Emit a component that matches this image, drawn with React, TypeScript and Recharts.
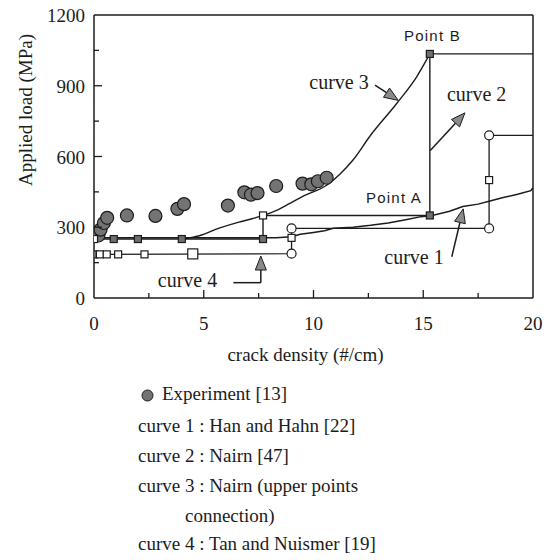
import {
  ComposedChart,
  Line,
  Scatter,
  XAxis,
  YAxis,
  ReferenceLine,
  ReferenceDot,
} from 'recharts';

const SERIF = '"Liberation Serif", "Times New Roman", serif';
const INK = '#1c1c1c';
const GREY = '#8a8a8a';

// crack density (#/cm) -> applied load (MPa)
const experiment = [
  { x: 0.2, y: 265 }, { x: 0.3, y: 290 }, { x: 0.45, y: 318 }, { x: 0.6, y: 340 },
  { x: 1.5, y: 350 }, { x: 2.8, y: 348 }, { x: 3.8, y: 378 }, { x: 4.1, y: 398 },
  { x: 6.1, y: 392 }, { x: 6.85, y: 448 }, { x: 7.15, y: 438 }, { x: 7.45, y: 445 },
  { x: 8.3, y: 475 }, { x: 9.5, y: 485 }, { x: 9.9, y: 482 }, { x: 10.2, y: 495 },
  { x: 10.6, y: 510 },
];

// Han and Hahn
const curve1 = [
  { x: 0, y: 255 }, { x: 7.7, y: 255 }, { x: 8.3, y: 256 }, { x: 9, y: 260 },
  { x: 9.4, y: 270 }, { x: 10, y: 278 }, { x: 10.5, y: 285 }, { x: 10.9, y: 296 },
  { x: 11.8, y: 300 }, { x: 12.6, y: 308 }, { x: 13.4, y: 318 }, { x: 14.2, y: 332 },
  { x: 14.9, y: 345 }, { x: 15.5, y: 352 }, { x: 16.2, y: 368 }, { x: 16.8, y: 388 },
  { x: 17.5, y: 398 }, { x: 18, y: 410 }, { x: 18.6, y: 425 }, { x: 19.3, y: 440 },
  { x: 19.9, y: 455 }, { x: 20, y: 468 },
];

// Nairn
const curve2 = [
  { x: 0, y: 250 }, { x: 7.7, y: 250 }, { x: 7.7, y: 350 }, { x: 15.3, y: 350 },
  { x: 15.3, y: 1035 }, { x: 20, y: 1035 },
];

// Nairn, upper points connection
const curve3 = [
  { x: 4.0, y: 250 }, { x: 4.8, y: 264 }, { x: 5.7, y: 296 }, { x: 6.6, y: 322 },
  { x: 7.2, y: 336 }, { x: 7.7, y: 350 }, { x: 8.4, y: 375 }, { x: 8.9, y: 400 },
  { x: 9.6, y: 435 }, { x: 10.6, y: 478 }, { x: 11.2, y: 525 }, { x: 11.8, y: 585 },
  { x: 12.6, y: 690 }, { x: 13.8, y: 826 }, { x: 14.7, y: 938 }, { x: 15.3, y: 1035 },
];

// Tan and Nuismer
const curve4 = [
  { x: 0, y: 185 }, { x: 9, y: 188 }, { x: 9, y: 295 }, { x: 18, y: 295 },
  { x: 18, y: 690 }, { x: 20, y: 690 },
];

const filledSquares = [
  { x: 0.9, y: 250 }, { x: 2.0, y: 250 }, { x: 4.0, y: 250 },
  { x: 7.7, y: 250 }, { x: 15.3, y: 350 }, { x: 15.3, y: 1035 }, { x: 0, y: 185 },
];
const openSquares = [
  { x: 0, y: 250 }, { x: 7.7, y: 350 }, { x: 0.27, y: 185 }, { x: 0.58, y: 185 },
  { x: 1.1, y: 185 }, { x: 2.3, y: 185 }, { x: 9, y: 255 }, { x: 18, y: 500 },
];
const bigSquares = [{ x: 4.5, y: 187 }];
const openCircles = [
  { x: 9, y: 188 }, { x: 9, y: 295 }, { x: 18, y: 295 }, { x: 18, y: 690 },
];

const xTicks = [0, 2.5, 5, 7.5, 10, 12.5, 15, 17.5, 20];
const xLabels = [0, 5, 10, 15, 20];
const yTicks = [0, 150, 300, 450, 600, 750, 900, 1050, 1200];
const yLabels = [0, 300, 600, 900, 1200];

const legendLines = [
  'curve 1 : Han and Hahn [22]',
  'curve 2 : Nairn [47]',
  'curve 3 : Nairn (upper points',
  'connection)',
  'curve 4 : Tan and Nuismer [19]',
];

const XTick = ({ x, y, payload }: any) => {
  const v = payload.value;
  const major = xLabels.includes(v);
  return (
    <g>
      {v > 0 && v < 20 && (
        <line x1={x} x2={x} y1={y} y2={y - (major ? 8 : 5)} stroke={INK} strokeWidth={1.3} />
      )}
      {major && (
        <text x={x} y={y + 32} textAnchor="middle" fontFamily={SERIF} fontSize={19} fill={INK}>
          {v}
        </text>
      )}
    </g>
  );
};

const YTick = ({ x, y, payload }: any) => {
  const v = payload.value;
  const major = yLabels.includes(v);
  return (
    <g>
      {v > 0 && v < 1200 && (
        <line x1={x} x2={x + (major ? 8 : 5)} y1={y} y2={y} stroke={INK} strokeWidth={1.3} />
      )}
      {major && (
        <text x={x - 9} y={y + 7} textAnchor="end" fontFamily={SERIF} fontSize={19} fill={INK}>
          {v}
        </text>
      )}
    </g>
  );
};

const arrowShape = (head: boolean) => (p: any) => {
  const { x1, y1, x2, y2 } = p;
  const dx = x2 - x1;
  const dy = y2 - y1;
  const len = Math.sqrt(dx * dx + dy * dy) || 1;
  const ux = dx / len;
  const uy = dy / len;
  const bx = x2 - ux * 14;
  const by = y2 - uy * 14;
  const pts = `${x2},${y2} ${bx - uy * 5.5},${by + ux * 5.5} ${bx + uy * 5.5},${by - ux * 5.5}`;
  return (
    <g>
      <line x1={x1} y1={y1} x2={head ? bx : x2} y2={head ? by : y2} stroke={INK} strokeWidth={1.5} />
      {head && <polygon points={pts} fill={GREY} stroke={INK} strokeWidth={1} />}
    </g>
  );
};

const textShape = (text: string, mono = false, anchor = 'middle') => (p: any) => (
  <text
    x={p.cx}
    y={p.cy}
    dy="0.35em"
    textAnchor={anchor}
    fontFamily={mono ? '"Liberation Sans", Arial, sans-serif' : SERIF}
    fontSize={mono ? 15 : 20}
    letterSpacing={mono ? 1.2 : 0}
    fill={INK}
  >
    {text}
  </text>
);

const squareShape = (size: number, fill: string) => (p: any) => (
  <rect
    x={p.cx - size / 2}
    y={p.cy - size / 2}
    width={size}
    height={size}
    fill={fill}
    stroke={INK}
    strokeWidth={1.2}
  />
);

const circleShape = (r: number, fill: string) => (p: any) => (
  <circle cx={p.cx} cy={p.cy} r={r} fill={fill} stroke={INK} strokeWidth={1.2} />
);

const YTitle = (p: any) => {
  const vb = p.viewBox || { x: 0, y: 15 };
  return (
    <text
      transform={`translate(${vb.x + 25},${vb.y + 95}) rotate(-90)`}
      textAnchor="middle"
      dy="0.35em"
      fontFamily={SERIF}
      fontSize={19}
      fill={INK}
    >
      Applied load (MPa)
    </text>
  );
};

const XTitle = (p: any) => {
  const vb = p.viewBox || { x: 94, y: 298, width: 439 };
  return (
    <text
      x={vb.x + vb.width / 2 - 8}
      y={vb.y + 63}
      textAnchor="middle"
      fontFamily={SERIF}
      fontSize={19}
      fill={INK}
    >
      crack density (#/cm)
    </text>
  );
};

const App = () => {
  return (
    <div
      style={{
        position: 'absolute',
        left: 0,
        top: 0,
        width: 553,
        height: 560,
        background: '#fff',
        overflow: 'hidden',
      }}
    >
      <ComposedChart
        width={553}
        height={372}
        margin={{ top: 15, right: 20, left: 0, bottom: 0 }}
      >
        <XAxis
          type="number"
          dataKey="x"
          domain={[0, 20]}
          ticks={xTicks}
          interval={0}
          tick={<XTick />}
          tickLine={false}
          tickSize={0}
          tickMargin={0}
          height={74}
          axisLine={{ stroke: INK, strokeWidth: 1.5 }}
          allowDataOverflow
          label={{ content: (p: any) => <XTitle {...p} /> }}
        />
        <YAxis
          type="number"
          dataKey="y"
          domain={[0, 1200]}
          ticks={yTicks}
          interval={0}
          tick={<YTick />}
          tickLine={false}
          tickSize={0}
          tickMargin={0}
          width={94}
          axisLine={{ stroke: INK, strokeWidth: 1.5 }}
          allowDataOverflow
          label={{ content: (p: any) => <YTitle {...p} /> }}
        />
        <ReferenceLine y={1200} stroke={INK} strokeWidth={1.5} />
        <ReferenceLine x={20} stroke={INK} strokeWidth={1.5} />

        <Line data={curve4} dataKey="y" type="linear" stroke={INK} strokeWidth={1.3} dot={false} isAnimationActive={false} />
        <Line data={curve1} dataKey="y" type="linear" stroke={INK} strokeWidth={1.5} dot={false} isAnimationActive={false} />
        <Line data={curve2} dataKey="y" type="linear" stroke={INK} strokeWidth={1.4} dot={false} isAnimationActive={false} />
        <Line data={curve3} dataKey="y" type="monotone" stroke={INK} strokeWidth={1.4} dot={false} isAnimationActive={false} />

        <Scatter data={experiment} dataKey="y" shape={circleShape(6.5, '#737373')} isAnimationActive={false} />
        <Scatter data={filledSquares} dataKey="y" shape={squareShape(7, '#6e6e6e')} isAnimationActive={false} />
        <Scatter data={openSquares} dataKey="y" shape={squareShape(7, '#fff')} isAnimationActive={false} />
        <Scatter data={bigSquares} dataKey="y" shape={squareShape(10, '#fff')} isAnimationActive={false} />
        <Scatter data={openCircles} dataKey="y" shape={circleShape(4.5, '#fff')} isAnimationActive={false} />

        {/* annotation arrows */}
        <ReferenceLine segment={[{ x: 12.8, y: 903 }, { x: 13.86, y: 838 }]} shape={arrowShape(true)} />
        <ReferenceLine segment={[{ x: 15.32, y: 625 }, { x: 16.9, y: 785 }]} shape={arrowShape(true)} />
        <ReferenceLine segment={[{ x: 16.3, y: 175 }, { x: 16.82, y: 378 }]} shape={arrowShape(true)} />
        <ReferenceLine segment={[{ x: 6.35, y: 65 }, { x: 7.6, y: 65 }]} shape={arrowShape(false)} />
        <ReferenceLine segment={[{ x: 7.6, y: 65 }, { x: 7.6, y: 178 }]} shape={arrowShape(true)} />

        {/* annotation text */}
        <ReferenceDot x={15.42} y={1111} shape={textShape('Point B', true)} />
        <ReferenceDot x={13.67} y={424} shape={textShape('Point A', true)} />
        <ReferenceDot x={11.16} y={917} shape={textShape('curve 3')} />
        <ReferenceDot x={17.43} y={865} shape={textShape('curve 2')} />
        <ReferenceDot x={14.58} y={175} shape={textShape('curve 1')} />
        <ReferenceDot x={4.26} y={76} shape={textShape('curve 4')} />
      </ComposedChart>

      <div style={{ position: 'absolute', left: 0, top: 0, fontFamily: SERIF, fontSize: 19, color: INK }}>
        <svg style={{ position: 'absolute', left: 141, top: 389 }} width={13} height={13}>
          <circle cx={6.5} cy={6.5} r={5.5} fill="#737373" stroke={INK} strokeWidth={1} />
        </svg>
        <div style={{ position: 'absolute', left: 162, top: 382, whiteSpace: 'nowrap', lineHeight: '24px' }}>
          Experiment [13]
        </div>
        {legendLines.map((t, i) => (
          <div
            key={t}
            style={{
              position: 'absolute',
              left: i === 3 ? 185 : 138,
              top: 414 + i * 30 - (i === 4 ? 2 : 0),
              whiteSpace: 'nowrap',
              lineHeight: '24px',
            }}
          >
            {t}
          </div>
        ))}
      </div>
    </div>
  );
};

export default App;
